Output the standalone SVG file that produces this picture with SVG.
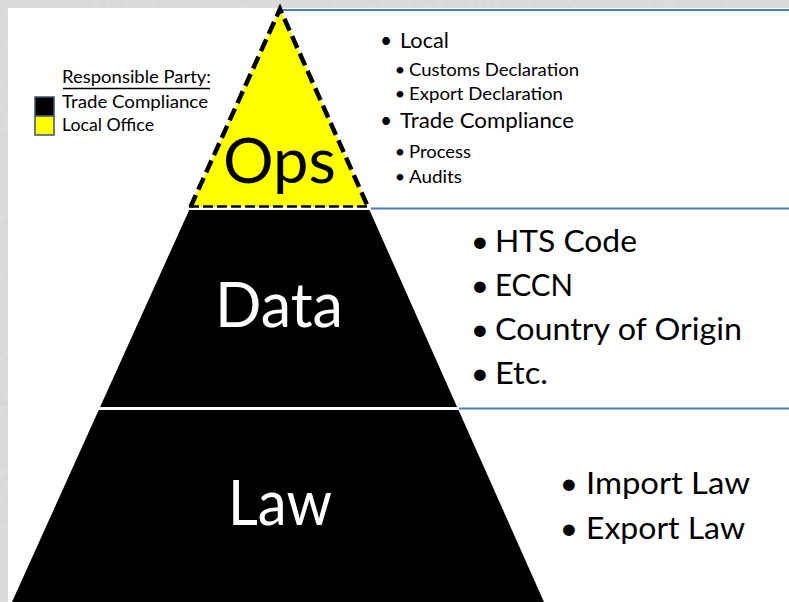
<svg xmlns="http://www.w3.org/2000/svg" width="789" height="602" viewBox="0 0 789 602">
  <defs>
    <filter id="grain" x="0" y="0" width="100%" height="100%">
      <feTurbulence type="fractalNoise" baseFrequency="0.16" numOctaves="3" seed="7" result="noise"/>
      <feColorMatrix in="noise" type="matrix" values="0 0 0 0 0.66  0 0 0 0 0.66  0 0 0 0 0.66  1.4 0 0 0 -0.45" result="spots"/>
      <feComposite in="spots" in2="SourceGraphic" operator="over"/>
    </filter>
    <style>
      text { font-family: Lato, "Open Sans", "Liberation Sans", sans-serif; }
      .legend { font-size: 18px; fill: #000; }
      .lvl1 { font-size: 21px; fill: #000; }
      .lvl2 { font-size: 18px; fill: #000; }
      .big { font-size: 31.5px; fill: #000; }
      .tier { font-size: 61px; }
      .divider { stroke: #4a7ebb; stroke-width: 2; fill: none; }
      .tierFill { fill: #000; }
    </style>
  </defs>

  <!-- mottled paper frame behind the slide -->
  <rect width="789" height="602" fill="#dcdcdc" filter="url(#grain)"/>
  <rect x="8" y="8" width="781" height="594" fill="#ffffff"/>

  <!-- row dividers -->
  <g id="connectors">
    <line class="divider" x1="283" y1="10" x2="789" y2="10"/>
    <line class="divider" x1="371" y1="208.5" x2="789" y2="208.5"/>
    <line class="divider" x1="459" y1="408.5" x2="789" y2="408.5"/>
  </g>

  <!-- legend -->
  <g id="legend">
    <text class="legend" x="62" y="83" textLength="149" lengthAdjust="spacingAndGlyphs">Responsible Party:</text>
    <line x1="63" y1="88.5" x2="210" y2="88.5" stroke="#000" stroke-width="1.3"/>
    <rect x="35" y="97" width="19" height="19" fill="#000" stroke="#3d5170" stroke-width="1.5"/>
    <text class="legend" x="62" y="108" textLength="146" lengthAdjust="spacingAndGlyphs">Trade Compliance</text>
    <rect x="35" y="116" width="19" height="19" fill="#ffff00" stroke="#3d5170" stroke-width="1.5"/>
    <text class="legend" x="62" y="131" textLength="92" lengthAdjust="spacingAndGlyphs">Local Office</text>
  </g>

  <!-- top tier: operations (local office) -->
  <g id="ops">
    <polygon points="190.5,207 280,9 368,207" fill="#ffff00"/>
    <path d="M190.5,207 L280,9 L368,207" fill="none" stroke="#000" stroke-width="4.5" stroke-dasharray="13 6" stroke-linejoin="miter"/>
    <line x1="189" y1="206.5" x2="370" y2="206.5" stroke="#000" stroke-width="2.5" stroke-dasharray="10 4"/>
    <text class="tier" x="223" y="183" fill="#000" textLength="113" lengthAdjust="spacingAndGlyphs">Ops</text>
  </g>

  <!-- middle tier: data -->
  <g id="data">
    <polygon class="tierFill" points="189.2,210 369.5,210 457.1,407 100.1,407"/>
    <text class="tier" x="215" y="327" fill="#fff" textLength="128" lengthAdjust="spacingAndGlyphs">Data</text>
  </g>

  <!-- bottom tier: law -->
  <g id="law">
    <polygon class="tierFill" points="98.7,410 458.5,410 544,602 12,602"/>
    <text class="tier" x="228" y="525" fill="#fff" textLength="104" lengthAdjust="spacingAndGlyphs">Law</text>
  </g>

  <!-- operations details -->
  <g id="ops-list">
    <text class="lvl1" x="386" y="48" text-anchor="middle">•</text>
    <text class="lvl1" x="400" y="48" textLength="49" lengthAdjust="spacingAndGlyphs">Local</text>
    <text class="lvl2" x="400" y="76" text-anchor="middle">•</text>
    <text class="lvl2" x="409" y="76" textLength="170" lengthAdjust="spacingAndGlyphs">Customs Declaration</text>
    <text class="lvl2" x="400" y="100" text-anchor="middle">•</text>
    <text class="lvl2" x="409" y="100" textLength="154" lengthAdjust="spacingAndGlyphs">Export Declaration</text>
    <text class="lvl1" x="386" y="128" text-anchor="middle">•</text>
    <text class="lvl1" x="400" y="128" textLength="174" lengthAdjust="spacingAndGlyphs">Trade Compliance</text>
    <text class="lvl2" x="400" y="158" text-anchor="middle">•</text>
    <text class="lvl2" x="409" y="158" textLength="62" lengthAdjust="spacingAndGlyphs">Process</text>
    <text class="lvl2" x="400" y="183" text-anchor="middle">•</text>
    <text class="lvl2" x="409" y="183" textLength="53" lengthAdjust="spacingAndGlyphs">Audits</text>
  </g>

  <!-- data details -->
  <g id="data-list">
    <text class="big" x="480" y="252" text-anchor="middle">•</text>
    <text class="big" x="495" y="252" textLength="142" lengthAdjust="spacingAndGlyphs">HTS Code</text>
    <text class="big" x="480" y="296" text-anchor="middle">•</text>
    <text class="big" x="495" y="296" textLength="78" lengthAdjust="spacingAndGlyphs">ECCN</text>
    <text class="big" x="480" y="340" text-anchor="middle">•</text>
    <text class="big" x="495" y="340" textLength="247" lengthAdjust="spacingAndGlyphs">Country of Origin</text>
    <text class="big" x="480" y="384" text-anchor="middle">•</text>
    <text class="big" x="495" y="384" textLength="53" lengthAdjust="spacingAndGlyphs">Etc.</text>
  </g>

  <!-- law details -->
  <g id="law-list">
    <text class="big" x="569" y="494" text-anchor="middle">•</text>
    <text class="big" x="586" y="494" textLength="164" lengthAdjust="spacingAndGlyphs">Import Law</text>
    <text class="big" x="569" y="539" text-anchor="middle">•</text>
    <text class="big" x="586" y="539" textLength="159" lengthAdjust="spacingAndGlyphs">Export Law</text>
  </g>
</svg>
